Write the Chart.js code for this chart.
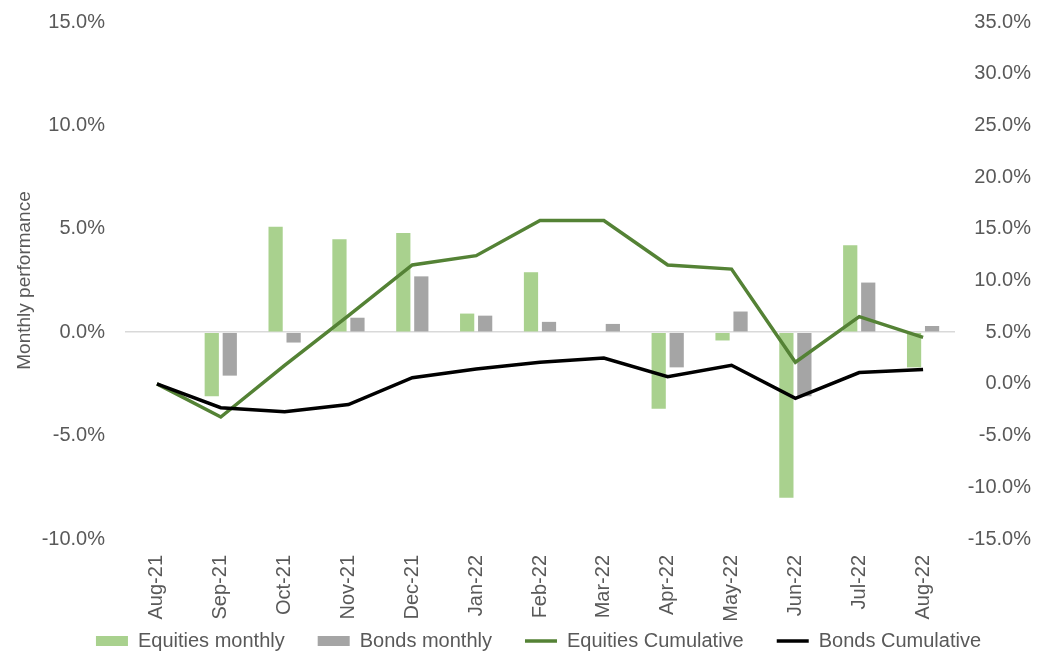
<!DOCTYPE html>
<html>
<head>
<meta charset="utf-8">
<title>Monthly performance</title>
<script src="https://cdn.jsdelivr.net/npm/chart.js@4.4.1/dist/chart.umd.min.js"></script>
<style>
    html, body { margin: 0; padding: 0; background: #ffffff; }
    #chartWrap { width: 1040px; height: 654px; }
</style>
</head>
<body>
<div id="chartWrap"><canvas id="perfChart" width="1040" height="654"></canvas></div>
<script>
// Data (in %)
const months = ['Aug-21', 'Sep-21', 'Oct-21', 'Nov-21', 'Dec-21', 'Jan-22', 'Feb-22',
    'Mar-22', 'Apr-22', 'May-22', 'Jun-22', 'Jul-22', 'Aug-22'];
const equitiesMonthly = [null, -3.1, 5.1, 4.5, 4.8, 0.9, 2.9, 0.0, -3.7, -0.4, -8.0, 4.2, -1.7];
const bondsMonthly = [null, -2.1, -0.5, 0.7, 2.7, 0.8, 0.5, 0.4, -1.7, 1.0, -3.1, 2.4, 0.3];
const equitiesCumulative = [0, -3.2, 1.8, 6.6, 11.5, 12.4, 15.8, 15.8, 11.5, 11.1, 2.1, 6.5, 4.5];
const bondsCumulative = [0, -2.3, -2.7, -2.0, 0.6, 1.45, 2.1, 2.5, 0.7, 1.8, -1.4, 1.1, 1.4];
const leftTicks = { min: -10, max: 15, step: 5 };
const rightTicks = { min: -15, max: 35, step: 5 };

const FONT = "'Liberation Sans', Arial, sans-serif";
const TEXT_COLOR = '#595959';

const pct = (value) => value.toFixed(1) + '%';

// nudge the legend so it lines up like the Excel original,
// and give the rotated month labels room (they get clipped to the axis box otherwise)
const legendNudge = {
    id: 'legendNudge',
    afterLayout(chart) {
        const legend = chart.legend;
        if (legend) {
            legend.left += 23;
            legend.right += 23;
            legend.top += 7;
            legend.bottom += 7;
        }
        const xScale = chart.scales.x;
        xScale.bottom += 40;
        xScale.height += 40;
    }
};

// fixed axis widths; drop the extra top/bottom padding the tick padding adds
const fixWidth = (width) => (scale) => {
    scale.width = width;
    scale.paddingTop = 0;
    scale.paddingBottom = 0;
};

Chart.defaults.font.family = FONT;
Chart.defaults.font.size = 20;
Chart.defaults.color = TEXT_COLOR;

new Chart(document.getElementById('perfChart'), {
    type: 'bar',
    data: {
        labels: months,
        datasets: [{
            label: 'Equities monthly',
            data: equitiesMonthly,
            backgroundColor: '#A9D18E',
            yAxisID: 'y',
            order: 2,
            categoryPercentage: 0.564,
            barPercentage: 0.79,
            pointStyle: 'rect'
        }, {
            label: 'Bonds monthly',
            data: bondsMonthly,
            backgroundColor: '#A5A5A5',
            yAxisID: 'y',
            order: 3,
            categoryPercentage: 0.564,
            barPercentage: 0.79,
            pointStyle: 'rect'
        }, {
            type: 'line',
            label: 'Equities Cumulative',
            data: equitiesCumulative,
            borderColor: '#548235',
            backgroundColor: '#548235',
            borderWidth: 3.5,
            pointBorderWidth: 3.5,
            pointRadius: 0,
            pointStyle: 'line',
            tension: 0,
            fill: false,
            yAxisID: 'y1',
            order: 1
        }, {
            type: 'line',
            label: 'Bonds Cumulative',
            data: bondsCumulative,
            borderColor: '#000000',
            backgroundColor: '#000000',
            borderWidth: 3.5,
            pointBorderWidth: 3.5,
            pointRadius: 0,
            pointStyle: 'line',
            tension: 0,
            fill: false,
            yAxisID: 'y1',
            order: 0
        }]
    },
    options: {
        responsive: false,
        animation: false,
        devicePixelRatio: 1,
        layout: {
            padding: { top: 22, right: 9, bottom: 0, left: 0 }
        },
        plugins: {
            tooltip: { enabled: false },
            legend: {
                position: 'bottom',
                labels: {
                    usePointStyle: true,
                    pointStyleWidth: 32,
                    boxHeight: 10,
                    padding: 33,
                    color: TEXT_COLOR,
                    font: { size: 20 },
                    sort: (a, b) => a.datasetIndex - b.datasetIndex
                }
            }
        },
        scales: {
            x: {
                grid: { display: false, drawTicks: false },
                border: { display: false },
                ticks: {
                    autoSkip: false,
                    minRotation: 90,
                    maxRotation: 90,
                    padding: 16,
                    color: TEXT_COLOR,
                    font: { size: 20 }
                },
                afterFit(scale) {
                    scale.height = 52;
                }
            },
            y: {
                position: 'left',
                min: leftTicks.min,
                max: leftTicks.max,
                ticks: {
                    stepSize: leftTicks.step,
                    padding: 20,
                    color: TEXT_COLOR,
                    font: { size: 20 },
                    callback: pct
                },
                grid: {
                    drawTicks: false,
                    lineWidth: 1.5,
                    color: (ctx) => (ctx.tick && ctx.tick.value === 0 ? '#D9D9D9' : 'rgba(0,0,0,0)')
                },
                border: { display: false },
                title: {
                    display: true,
                    text: 'Monthly performance',
                    color: TEXT_COLOR,
                    font: { size: 19 },
                    padding: { top: 13, bottom: 0 }
                },
                afterFit: fixWidth(125)
            },
            y1: {
                position: 'right',
                min: rightTicks.min,
                max: rightTicks.max,
                ticks: {
                    stepSize: rightTicks.step,
                    padding: 12,
                    crossAlign: 'far',
                    color: TEXT_COLOR,
                    font: { size: 20 },
                    callback: pct
                },
                grid: { display: false, drawTicks: false },
                border: { display: false },
                afterFit: fixWidth(76)
            }
        }
    },
    plugins: [legendNudge]
});
</script>
</body>
</html>
